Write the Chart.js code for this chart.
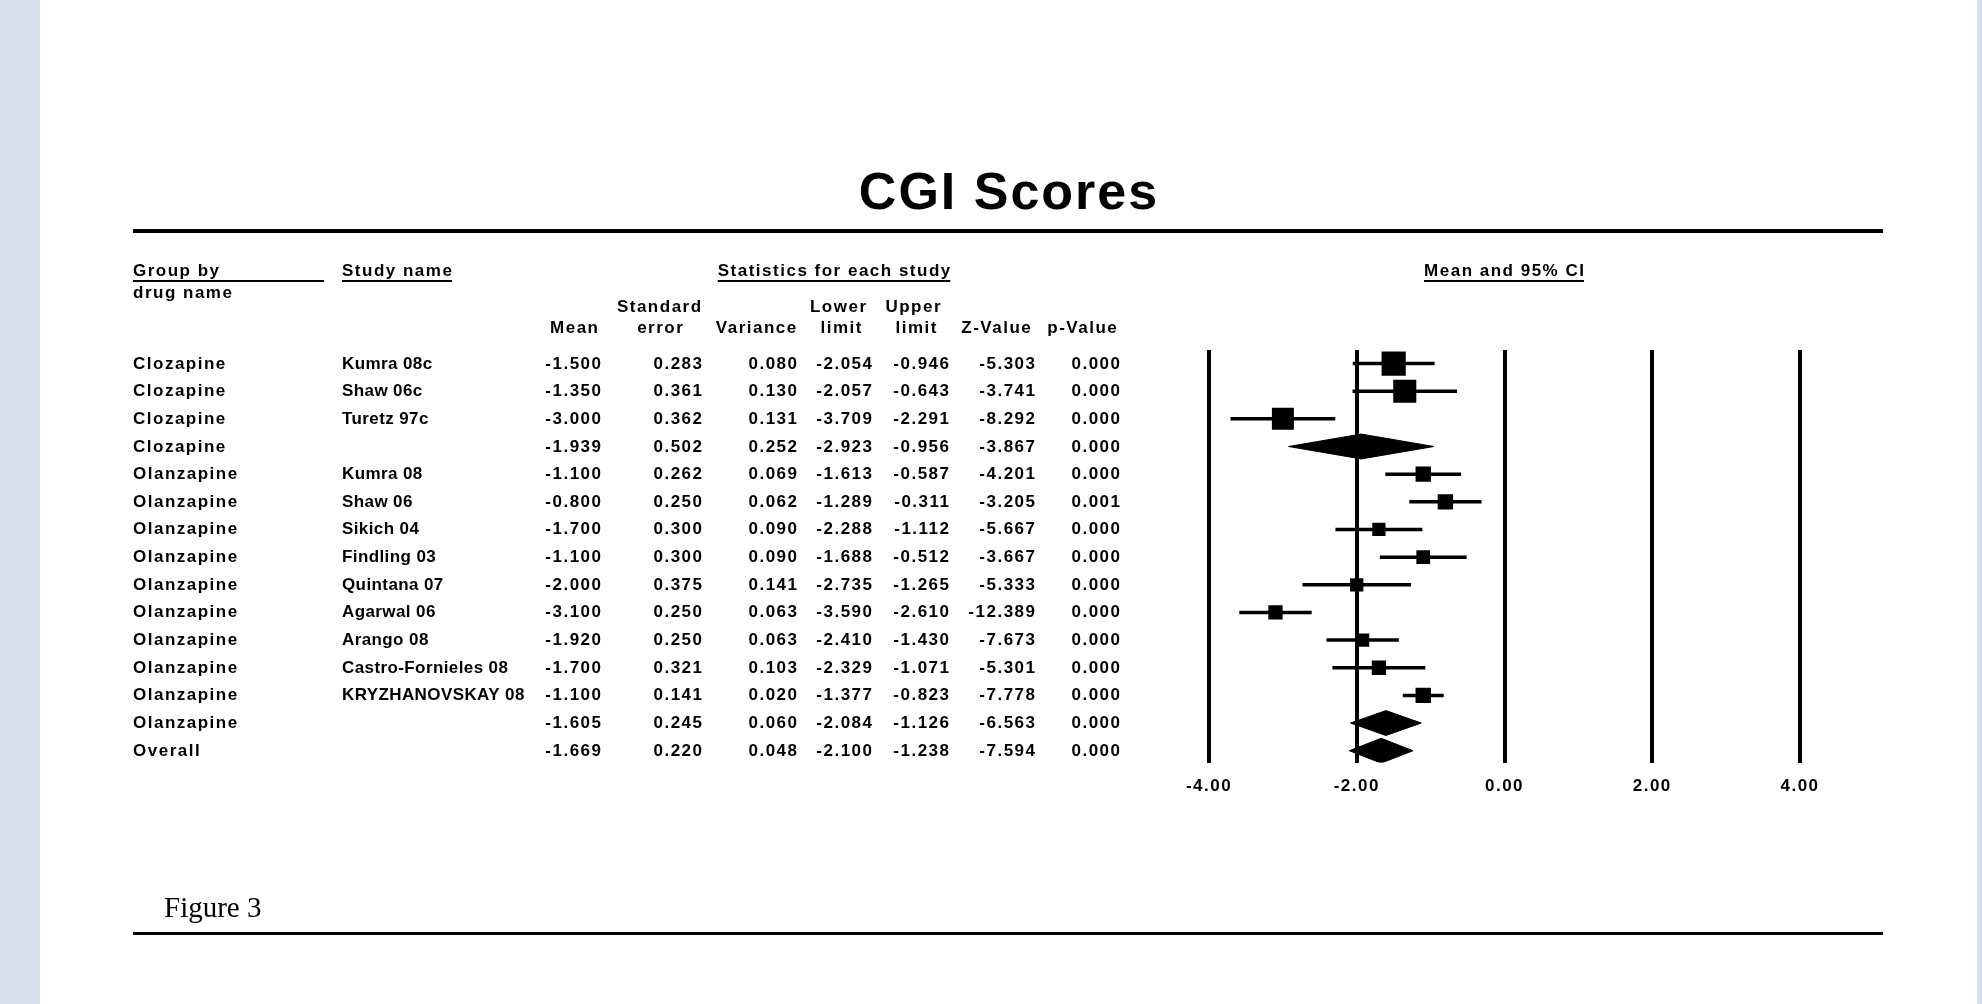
<!DOCTYPE html>
<html>
<head>
<meta charset="utf-8">
<title>CGI Scores</title>
<script src="https://cdn.jsdelivr.net/npm/chart.js@4.4.1/dist/chart.umd.min.js"></script>
<style>
html, body { margin: 0; padding: 0; background: #d8deeb; overflow: hidden; }
#page { position: absolute; left: 40px; top: 0; width: 1937px; height: 1004px; background: #fff; }
#wrap { position: absolute; left: 0; top: 0; width: 1982px; height: 1004px; }
</style>
</head>
<body>
<div id="page"></div>
<div id="wrap"><canvas id="forest" width="1982" height="1004"></canvas></div>
<script>
// table rows, top to bottom
const groups = ['Clozapine', 'Clozapine', 'Clozapine', 'Clozapine',
    'Olanzapine', 'Olanzapine', 'Olanzapine', 'Olanzapine', 'Olanzapine',
    'Olanzapine', 'Olanzapine', 'Olanzapine', 'Olanzapine', 'Olanzapine', 'Overall'];
const studies = ['Kumra 08c', 'Shaw 06c', 'Turetz 97c', '',
    'Kumra 08', 'Shaw 06', 'Sikich 04', 'Findling 03', 'Quintana 07',
    'Agarwal 06', 'Arango 08', 'Castro-Fornieles 08', 'KRYZHANOVSKAY 08', '', ''];
const means = [-1.500, -1.350, -3.000, -1.939, -1.100, -0.800, -1.700, -1.100, -2.000, -3.100, -1.920, -1.700, -1.100, -1.605, -1.669];
const stdErrors = [0.283, 0.361, 0.362, 0.502, 0.262, 0.250, 0.300, 0.300, 0.375, 0.250, 0.250, 0.321, 0.141, 0.245, 0.220];
const variances = [0.080, 0.130, 0.131, 0.252, 0.069, 0.062, 0.090, 0.090, 0.141, 0.063, 0.063, 0.103, 0.020, 0.060, 0.048];
const lowerLimits = [-2.054, -2.057, -3.709, -2.923, -1.613, -1.289, -2.288, -1.688, -2.735, -3.590, -2.410, -2.329, -1.377, -2.084, -2.100];
const upperLimits = [-0.946, -0.643, -2.291, -0.956, -0.587, -0.311, -1.112, -0.512, -1.265, -2.610, -1.430, -1.071, -0.823, -1.126, -1.238];
const zValues = [-5.303, -3.741, -8.292, -3.867, -4.201, -3.205, -5.667, -3.667, -5.333, -12.389, -7.673, -5.301, -7.778, -6.563, -7.594];
const pValues = [0.000, 0.000, 0.000, 0.000, 0.000, 0.001, 0.000, 0.000, 0.000, 0.000, 0.000, 0.000, 0.000, 0.000, 0.000];
// relative study weights (%), estimated from square sizes; null = summary row
const weights = [36.5, 33.3, 30.2, null, 14.8, 14.8, 10.9, 11.8, 10.9, 12.8, 10.9, 12.8, 14.8, null, null];
const xTicks = [-4, -2, 0, 2, 4];

const FONT = '"Liberation Sans", Arial, sans-serif';
const rowIdx = groups.map((g, i) => i);
const isSummary = i => studies[i] === '';

// datasets
const squares = {
    data: rowIdx.filter(i => !isSummary(i)).map(i => ({ x: means[i], y: i })),
    showLine: false,
    pointStyle: 'rect',
    pointRadius: rowIdx.filter(i => !isSummary(i)).map(i => 4.0 * Math.sqrt(weights[i]) / Math.SQRT2),
    pointBorderWidth: 0,
    pointBackgroundColor: '#000'
};
const ciLines = rowIdx.filter(i => !isSummary(i)).map(i => ({
    data: [{ x: lowerLimits[i], y: i }, { x: upperLimits[i], y: i }],
    borderColor: '#000',
    borderWidth: 3.5,
    pointRadius: 0
}));
const diamonds = rowIdx.filter(isSummary).map(i => ({
    data: [
        { x: lowerLimits[i], y: i },
        { x: means[i], y: i - 0.45 },
        { x: upperLimits[i], y: i },
        { x: means[i], y: i + 0.45 },
        { x: lowerLimits[i], y: i }
    ],
    borderColor: '#000',
    borderWidth: 1,
    backgroundColor: '#000',
    fill: 'shape',
    pointRadius: 0,
    tension: 0
}));

function text(ctx, str, x, y, align, font, spacing) {
    ctx.font = font;
    ctx.letterSpacing = spacing + 'px';
    ctx.textAlign = align;
    ctx.textBaseline = 'alphabetic';
    const dx = align === 'right' ? spacing : (align === 'center' ? spacing / 2 : 0);
    ctx.fillText(str, x + dx, y);
}

const tablePlugin = {
    id: 'table',
    beforeDraw(chart) {
        chart.ctx.letterSpacing = '1.5px';
    },
    afterDraw(chart) {
        const ctx = chart.ctx;
        const ys = chart.scales.y;
        const bold = 'bold 17px ' + FONT;
        const ls = 1.5;
        ctx.save();
        ctx.fillStyle = '#000';

        // title and rules
        text(ctx, 'CGI Scores', 1008, 209, 'center', 'bold 52px ' + FONT, 2);
        ctx.fillRect(133, 229, 1750, 4);
        ctx.fillRect(133, 932, 1750, 3);
        text(ctx, 'Figure 3', 164, 917, 'left', '29px "Liberation Serif", "Times New Roman", serif', 0);

        // headers
        const h1 = 276;
        text(ctx, 'Group by', 133, h1, 'left', bold, ls);
        ctx.fillRect(133, h1 + 4, 191, 2);
        text(ctx, 'Study name', 342, h1, 'left', bold, ls);
        ctx.fillRect(342, h1 + 4, ctx.measureText('Study name').width - ls, 2);
        text(ctx, 'Statistics for each study', 834, h1, 'center', bold, ls);
        let w = ctx.measureText('Statistics for each study').width - ls;
        ctx.fillRect(834 - w / 2, h1 + 4, w, 2);
        text(ctx, 'Mean and 95% CI', 1504, h1, 'center', bold, ls);
        w = ctx.measureText('Mean and 95% CI').width - ls;
        ctx.fillRect(1504 - w / 2, h1 + 4, w, 2);
        text(ctx, 'drug name', 133, 298, 'left', bold, ls);

        const h2 = 312, h3 = 333;
        text(ctx, 'Standard', 659, h2, 'center', bold, ls);
        text(ctx, 'Lower', 838, h2, 'center', bold, ls);
        text(ctx, 'Upper', 913, h2, 'center', bold, ls);
        [['Mean', 574], ['error', 660], ['Variance', 756], ['limit', 841], ['limit', 916],
         ['Z-Value', 996], ['p-Value', 1082]].forEach(([s, x]) => text(ctx, s, x, h3, 'center', bold, ls));

        // rows
        const cols = [601, 702, 797, 872, 949, 1035, 1120];
        rowIdx.forEach(i => {
            const y = ys.getPixelForValue(i) + 5;
            text(ctx, groups[i], 133, y, 'left', bold, ls);
            if (studies[i]) text(ctx, studies[i], 342, y, 'left', bold, 0.4);
            const vals = [means[i], stdErrors[i], variances[i], lowerLimits[i], upperLimits[i], zValues[i], pValues[i]];
            vals.forEach((v, k) => text(ctx, v.toFixed(3), cols[k], y, 'right', bold, ls));
        });
        ctx.restore();
    }
};

new Chart(document.getElementById('forest'), {
    type: 'line',
    data: { datasets: [squares, ...ciLines, ...diamonds] },
    options: {
        responsive: false,
        animation: false,
        layout: { padding: { left: 1209, right: 182, top: 350, bottom: 193 } },
        plugins: { legend: { display: false }, tooltip: { enabled: false } },
        scales: {
            x: {
                type: 'linear',
                min: xTicks[0],
                max: xTicks[xTicks.length - 1],
                afterBuildTicks: axis => { axis.ticks = xTicks.map(v => ({ value: v })); },
                ticks: {
                    padding: 14,
                    color: '#000',
                    font: { family: FONT, size: 17, weight: 'bold' },
                    callback: v => v.toFixed(2)
                },
                grid: { color: '#000', lineWidth: 4, drawTicks: false },
                border: { display: false }
            },
            y: {
                type: 'linear',
                reverse: true,
                min: -0.49,
                max: 14.43,
                display: false
            }
        }
    },
    plugins: [tablePlugin]
});
</script>
</body>
</html>
